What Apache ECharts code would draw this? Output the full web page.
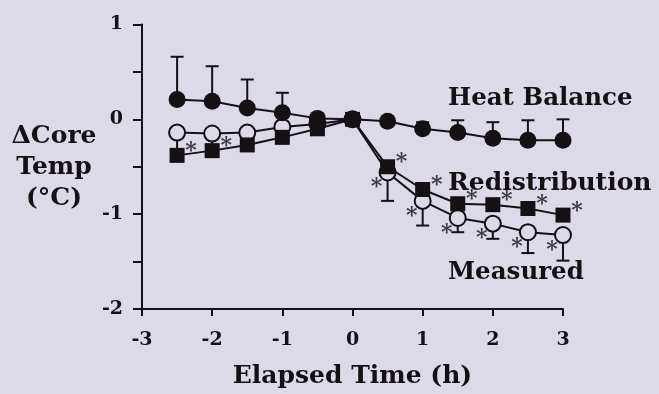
<!DOCTYPE html>
<html>
<head>
<meta charset="utf-8">
<script src="https://cdn.jsdelivr.net/npm/echarts@6/dist/echarts.min.js"></script>
<style>
html,body{margin:0;padding:0;background:#dcdae6;}
#c{width:659px;height:394px;}
</style>
</head>
<body>
<div id="c"></div>
<script>
// ---- data ----
const times = [-2.5, -2, -1.5, -1, -0.5, 0, 0.5, 1, 1.5, 2, 2.5, 3];
const heatBalance = [0.21, 0.19, 0.12, 0.07, 0.01, 0, -0.02, -0.10, -0.14, -0.20, -0.22, -0.22];
const heatBalanceUpper = [0.66, 0.56, 0.42, 0.28, null, null, null, -0.03, -0.01, -0.03, -0.01, 0.0];
const redistribution = [-0.38, -0.33, -0.27, -0.19, -0.10, 0, -0.50, -0.74, -0.89, -0.90, -0.94, -1.01];
const redistributionSig = [1, 1, 0, 0, 0, 0, 1, 1, 1, 1, 1, 1];
const measured = [-0.14, -0.15, -0.14, -0.08, -0.05, 0, -0.56, -0.86, -1.04, -1.10, -1.19, -1.22];
const measuredLower = [-0.34, -0.33, -0.30, -0.20, -0.12, null, -0.86, -1.12, -1.19, -1.26, -1.41, -1.49];
const measuredSig = [0, 0, 0, 0, 0, 0, 1, 1, 1, 1, 1, 1];
const xTicks = [-3, -2, -1, 0, 1, 2, 3];
const yTicks = [-2, -1, 0, 1];
const seriesNames = ['Heat Balance', 'Redistribution', 'Measured'];
const yTitle = ['\u0394Core', 'Temp', '(\u00B0C)'];
const xTitle = 'Elapsed Time (h)';

// ---- styling ----
const BG = '#dcdae6';
const INK = '#141014';
const FONT = 'DejaVu Serif';

function pairs(xs, ys) { return xs.map((x, i) => [x, ys[i]]); }
function errData(xs, ys, ends) {
  const out = [];
  xs.forEach((x, i) => { if (ends[i] !== null) out.push([x, ys[i], ends[i]]); });
  return out;
}
function sigData(xs, ys, flags) {
  const out = [];
  xs.forEach((x, i) => { if (flags[i]) out.push([x, ys[i]]); });
  return out;
}
function errRender(params, api) {
  const x = api.value(0), y = api.value(1), e = api.value(2);
  const p0 = api.coord([x, y]);
  const p1 = api.coord([x, e]);
  const hw = 6.5;
  const st = { stroke: INK, lineWidth: 2 };
  return {
    type: 'group',
    children: [
      { type: 'line', shape: { x1: p0[0], y1: p0[1], x2: p1[0], y2: p1[1] }, style: st },
      { type: 'line', shape: { x1: p1[0] - hw, y1: p1[1], x2: p1[0] + hw, y2: p1[1] }, style: st }
    ]
  };
}
function starSeries(data, offset) {
  return {
    type: 'scatter', data: data, symbolSize: 1, symbol: 'circle',
    itemStyle: { color: 'rgba(0,0,0,0)' }, z: 6, silent: true,
    label: {
      show: true, formatter: '*', position: 'inside', offset: offset,
      color: INK, fontFamily: FONT, fontWeight: 'bold', fontSize: 22
    }
  };
}

const chart = echarts.init(document.getElementById('c'), null, { renderer: 'canvas' });
chart.setOption({
  backgroundColor: BG,
  animation: false,
  grid: { left: 142, top: 24.5, width: 421, height: 288, containLabel: false },
  xAxis: {
    type: 'value', min: -3, max: 3, interval: 1,
    axisLine: { onZero: false, lineStyle: { color: INK, width: 2 } },
    axisTick: { show: true, inside: false, length: 7, lineStyle: { color: INK, width: 2 } },
    splitLine: { show: false },
    axisLabel: {
      margin: 22, color: INK, fontFamily: FONT, fontWeight: 'bold', fontSize: 19,
      formatter: v => (xTicks.indexOf(v) >= 0 ? String(v) : '')
    },
    name: xTitle, nameLocation: 'middle', nameGap: 55,
    nameTextStyle: { color: INK, fontFamily: FONT, fontWeight: 'bold', fontSize: 25 }
  },
  yAxis: {
    type: 'value', min: -2, max: 1, interval: 0.5,
    axisLine: { show: true, onZero: false, lineStyle: { color: INK, width: 2 } },
    axisTick: { show: true, inside: false, length: 9, lineStyle: { color: INK, width: 2 } },
    splitLine: { show: false },
    axisLabel: {
      margin: 19, color: INK, fontFamily: FONT, fontWeight: 'bold', fontSize: 19,
      formatter: v => (yTicks.indexOf(v) >= 0 ? String(v) : '')
    }
  },
  graphic: [
    {
      type: 'text', x: 54, y: 121,
      style: {
        text: yTitle.join('\n'), fill: INK, font: 'bold 25px "' + FONT + '"',
        align: 'center', verticalAlign: 'top', lineHeight: 31
      }
    },
    { type: 'text', x: 448, y: 86, style: { text: seriesNames[0], fill: INK, font: 'bold 24.5px "' + FONT + '"' } },
    { type: 'text', x: 448, y: 171, style: { text: seriesNames[1], fill: INK, font: 'bold 25px "' + FONT + '"' } },
    { type: 'text', x: 448, y: 260, style: { text: seriesNames[2], fill: INK, font: 'bold 24.5px "' + FONT + '"' } }
  ],
  series: [
    { type: 'custom', renderItem: errRender, data: errData(times, measured, measuredLower), z: 1, silent: true },
    { type: 'custom', renderItem: errRender, data: errData(times, heatBalance, heatBalanceUpper), z: 1, silent: true },
    {
      name: seriesNames[2], type: 'line', data: pairs(times, measured), z: 2,
      symbol: 'circle', symbolSize: 16, showAllSymbol: true,
      lineStyle: { color: INK, width: 2 },
      itemStyle: { color: BG, borderColor: INK, borderWidth: 2 }
    },
    {
      name: seriesNames[0], type: 'line', data: pairs(times, heatBalance), z: 3,
      symbol: 'circle', symbolSize: 17, showAllSymbol: true,
      lineStyle: { color: INK, width: 2 },
      itemStyle: { color: INK, borderWidth: 0 }
    },
    {
      name: seriesNames[1], type: 'line', data: pairs(times, redistribution), z: 4,
      symbol: 'rect', symbolSize: 15, showAllSymbol: true,
      lineStyle: { color: INK, width: 2 },
      itemStyle: { color: INK, borderWidth: 0 }
    },
    starSeries(sigData(times, redistribution, redistributionSig), [14, -4]),
    starSeries(sigData(times, measured, measuredSig), [-11, 15])
  ]
});
</script>
</body>
</html>
